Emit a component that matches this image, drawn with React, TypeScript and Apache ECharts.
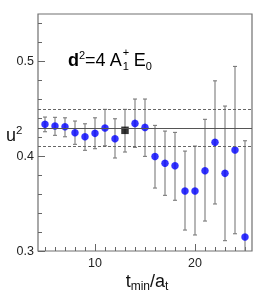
import React, { useEffect, useRef } from "react";
import * as echarts from "echarts";

// ---- data ----
const tMin = [5, 6, 7, 8, 9, 10, 11, 12, 13, 14, 15, 16, 17, 18, 19, 20, 21, 22, 23, 24, 25];
const u2Central = [0.4336, 0.4318, 0.4311, 0.4247, 0.4205, 0.4241, 0.4297, 0.4184, 0.4273, 0.4346, 0.4304, 0.3996, 0.3925, 0.3899, 0.3633, 0.3633, 0.3847, 0.4146, 0.3819, 0.4065, 0.3148];
const u2Upper = [0.4413, 0.441, 0.4405, 0.4371, 0.4342, 0.4405, 0.4494, 0.4395, 0.4494, 0.4603, 0.4603, 0.4325, 0.4265, 0.4251, 0.4054, 0.4107, 0.4389, 0.4795, 0.4529, 0.4947, 0.4163];
const u2Lower = [0.4258, 0.422, 0.4205, 0.4125, 0.4062, 0.4079, 0.411, 0.3981, 0.4044, 0.4093, 0.3998, 0.3664, 0.3587, 0.3535, 0.3221, 0.3169, 0.3316, 0.3496, 0.3109, 0.3182, 0.2133];
const chosenT = 13;
const fitValue = 0.4275;
const fitUpper = 0.4507;
const fitLower = 0.4053;

const xMajorTicks = [10, 20];
const xMinorTicks = [5, 6, 7, 8, 9, 11, 12, 13, 14, 15, 16, 17, 18, 19, 21, 22, 23, 24, 25];
const yMajorTicks = [0.3, 0.4, 0.5];
const yMinorTicks = [0.32, 0.34, 0.36, 0.38, 0.42, 0.44, 0.46, 0.48, 0.52, 0.54];

const FONT = "Liberation Sans, Arial, Helvetica, sans-serif";

export default function App() {
  const ref = useRef<HTMLDivElement>(null);

  useEffect(() => {
    if (!ref.current) return;
    const chart = echarts.init(ref.current, undefined, { renderer: "svg" });

    const errData = tMin.map((t, i) => [t, u2Lower[i], u2Upper[i]]);
    const blueData = tMin
      .map((t, i) => [t, u2Central[i]])
      .filter((d) => d[0] !== chosenT);
    const blackData = tMin
      .map((t, i) => [t, u2Central[i]])
      .filter((d) => d[0] === chosenT);

    const axisColor = "#666";
    const tickStyle = { color: axisColor, width: 1 };

    const option: any = {
      animation: false,
      grid: {
        left: 38,
        right: 14,
        top: 14,
        bottom: 46,
        show: true,
        borderColor: "#707070",
        borderWidth: 1.2,
        backgroundColor: "transparent",
      },
      xAxis: [
        {
          type: "value",
          min: 4.3,
          max: 25.7,
          position: "bottom",
          axisLine: { show: false },
          splitLine: { show: false },
          axisTick: { show: true, inside: true, length: 7, lineStyle: tickStyle, customValues: xMajorTicks },
          axisLabel: {
            customValues: xMajorTicks,
            margin: 5,
            fontSize: 12.5,
            fontFamily: FONT,
            color: "#222",
          },
        },
        {
          type: "value",
          min: 4.3,
          max: 25.7,
          position: "bottom",
          offset: 0,
          axisLine: { show: false },
          splitLine: { show: false },
          axisTick: { show: true, inside: true, length: 4, lineStyle: tickStyle, customValues: xMinorTicks },
          axisLabel: { show: false },
        },
      ],
      yAxis: [
        {
          type: "value",
          min: 0.3,
          max: 0.55,
          position: "left",
          axisLine: { show: false },
          splitLine: { show: false },
          axisTick: { show: true, inside: true, length: 7, lineStyle: tickStyle, customValues: yMajorTicks },
          axisLabel: {
            customValues: yMajorTicks,
            margin: 4,
            fontSize: 12.5,
            fontFamily: FONT,
            color: "#222",
            formatter: (v: number) => v.toFixed(1),
          },
        },
        {
          type: "value",
          min: 0.3,
          max: 0.55,
          position: "left",
          offset: 0,
          axisLine: { show: false },
          splitLine: { show: false },
          axisTick: { show: true, inside: true, length: 4, lineStyle: tickStyle, customValues: yMinorTicks },
          axisLabel: { show: false },
        },
      ],
      series: [
        {
          type: "line",
          xAxisIndex: 0,
          yAxisIndex: 0,
          data: [],
          markLine: {
            silent: true,
            symbol: "none",
            label: { show: false },
            data: [
              { yAxis: fitValue, lineStyle: { color: "#555", width: 1, type: "solid" } },
              { yAxis: fitUpper, lineStyle: { color: "#666", width: 1, type: [3, 2] } },
              { yAxis: fitLower, lineStyle: { color: "#666", width: 1, type: [3, 2] } },
            ],
          },
        },
        {
          type: "custom",
          xAxisIndex: 0,
          yAxisIndex: 0,
          data: errData,
          encode: { x: 0, y: [1, 2] },
          renderItem: (params: any, api: any) => {
            const x = api.value(0);
            const lo = api.value(1);
            const hi = api.value(2);
            const pHi = api.coord([x, hi]);
            const pLo = api.coord([x, lo]);
            const cs = params.coordSys;
            const top = Math.max(pHi[1], cs.y);
            const bot = Math.min(pLo[1], cs.y + cs.height);
            const px = pHi[0];
            const style = { stroke: "#7a7a7a", lineWidth: 1.1 };
            const children: any[] = [
              { type: "line", shape: { x1: px, y1: top, x2: px, y2: bot }, style },
            ];
            if (pHi[1] >= cs.y) {
              children.push({ type: "line", shape: { x1: px - 2, y1: pHi[1], x2: px + 2, y2: pHi[1] }, style });
            }
            if (pLo[1] <= cs.y + cs.height) {
              children.push({ type: "line", shape: { x1: px - 2, y1: pLo[1], x2: px + 2, y2: pLo[1] }, style });
            }
            return { type: "group", children };
          },
        },
        {
          type: "scatter",
          xAxisIndex: 0,
          yAxisIndex: 0,
          data: blueData,
          symbol: "circle",
          symbolSize: 7.5,
          itemStyle: { color: "#0000ff" },
        },
        {
          type: "scatter",
          xAxisIndex: 0,
          yAxisIndex: 0,
          data: blackData,
          symbol: "rect",
          symbolSize: 7.5,
          itemStyle: { color: "#000000" },
        },
      ],
      graphic: [
        // y-axis title u^2
        {
          type: "text",
          left: 6,
          top: 124,
          style: {
            text: "{m|u}{p|2}",
            fontFamily: FONT,
            fill: "#111",
            rich: {
              m: { fontSize: 18, lineHeight: 22, fontFamily: FONT, fill: "#111" },
              p: { fontSize: 11.5, lineHeight: 12, verticalAlign: "top", fontFamily: FONT, fill: "#111" },
            },
          },
        },
        // x-axis title t_min / a_t
        {
          type: "text",
          x: 147,
          y: 270,
          style: {
            text: "{m|t}{s|min}{m|/a}{s|t}",
            align: "center",
            verticalAlign: "top",
            fontFamily: FONT,
            fill: "#111",
            rich: {
              m: { fontSize: 18, lineHeight: 22, fontFamily: FONT, fill: "#111" },
              s: { fontSize: 12, lineHeight: 11, verticalAlign: "bottom", fontFamily: FONT, fill: "#111" },
            },
          },
        },
        // annotation d^2=4 A1+ E0
        {
          type: "text",
          x: 68,
          y: 49,
          style: {
            text: "{b|d}{p|2}{m|=4 A}{s|1}{m| E}{s|0}",
            align: "left",
            verticalAlign: "top",
            fontFamily: FONT,
            fill: "#000",
            rich: {
              b: { fontSize: 18, lineHeight: 22, fontWeight: "bold", fontFamily: FONT, fill: "#000" },
              m: { fontSize: 18, lineHeight: 22, fontFamily: FONT, fill: "#000" },
              p: { fontSize: 11, lineHeight: 12.8, verticalAlign: "top", fontFamily: FONT, fill: "#000" },
              s: { fontSize: 11, lineHeight: 11.2, verticalAlign: "bottom", fontFamily: FONT, fill: "#000" },
            },
          },
        },
        {
          type: "text",
          x: 122.8,
          y: 51.5,
          style: {
            text: "+",
            fontSize: 11,
            fontFamily: FONT,
            fill: "#000",
            align: "left",
            verticalAlign: "middle",
          },
        },
      ],
    };

    chart.setOption(option);
    return () => chart.dispose();
  }, []);

  return (
    <div
      ref={ref}
      style={{ position: "fixed", left: 0, top: 0, width: 266, height: 297 }}
    />
  );
}
